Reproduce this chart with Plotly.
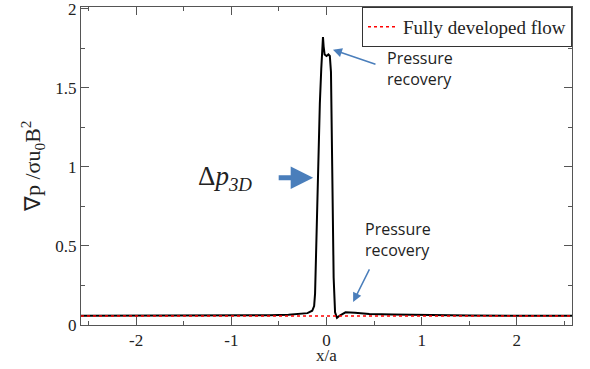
import plotly.graph_objects as go

# Data
x_vals = [-2.58, -1.5, -1.0, -0.6, -0.4, -0.3, -0.2, -0.15, -0.13, -0.12, -0.11, -0.09, -0.07, -0.055,
          -0.047, -0.037, -0.03, -0.02, 0.0, 0.02, 0.035, 0.047, 0.06, 0.075, 0.09, 0.11, 0.14,
          0.2, 0.3, 0.45, 0.7, 1.0, 1.5, 2.58]
y_vals = [0.058, 0.058, 0.06, 0.062, 0.065, 0.068, 0.075, 0.09, 0.12, 0.2, 0.45, 1.0, 1.4, 1.62,
          1.72, 1.82, 1.76, 1.71, 1.70, 1.71, 1.70, 1.6, 1.0, 0.3, 0.08, 0.045, 0.06,
          0.08, 0.078, 0.07, 0.066, 0.064, 0.06, 0.058]
fd_x = [-2.58, 2.58]
fd_y = [0.057, 0.057]

x_ticks = [-2, -1, 0, 1, 2]
x_tick_text = ["-2", "-1", "0", "1", "2"]
y_ticks = [0, 0.5, 1, 1.5, 2]
y_tick_text = ["0", "0.5", "1", "1.5", "2"]

serif = "Liberation Serif"
sans = "Open Sans"
blue = "#4A7EBB"

fig = go.Figure()
fig.add_trace(go.Scatter(x=x_vals, y=y_vals, mode="lines",
                         line=dict(color="black", width=2), showlegend=False))
fig.add_trace(go.Scatter(x=fd_x, y=fd_y, mode="lines", name="Fully developed flow",
                         line=dict(color="red", width=1.5, dash="dot")))

def axis_common():
    return dict(showline=True, linecolor="#555", linewidth=1, mirror="allticks",
                ticks="inside", ticklen=8, tickcolor="#555", showgrid=False, zeroline=False,
                automargin=False, ticklabeloverflow="allow",
                tickfont=dict(family=serif, size=17, color="#222"))

fig.update_xaxes(range=[-2.58, 2.58], tickvals=x_ticks, ticktext=x_tick_text,
                 minor=dict(ticks="inside", ticklen=4, dtick=0.5, tick0=0, tickcolor="#555"),
                 **axis_common())
fig.update_yaxes(range=[0, 2.01], tickvals=y_ticks, ticktext=y_tick_text,
                 minor=dict(ticks="inside", ticklen=4, dtick=0.25, tick0=0, tickcolor="#555"),
                 **axis_common())

annotations = [
    # axis titles
    dict(x=0.5, y=-0.13, xref="paper", yref="paper", text="x/a", showarrow=False,
         xanchor="center", yanchor="bottom", borderpad=0,
         font=dict(family=serif, size=17, color="#222")),
    dict(x=(32 - 81) / 491, y=0.5, xref="paper", yref="paper", text="∇p /σu<sub>0</sub>B<sup>2</sup>",
         showarrow=False, textangle=-90, xanchor="center", yanchor="middle",
         font=dict(family=serif, size=22, color="#222")),
    # arrows
    dict(x=0.068, y=1.74, xref="x", yref="y", ax=44, ay=15,
         showarrow=True, arrowhead=2, arrowsize=1.2, arrowwidth=1.5, arrowcolor=blue, text=""),
    dict(x=0.28, y=0.146, xref="x", yref="y", ax=17, ay=-34,
         showarrow=True, arrowhead=2, arrowsize=1.2, arrowwidth=1.5, arrowcolor=blue, text=""),
    dict(x=-0.14, y=0.93, xref="x", yref="y", ax=-36, ay=0,
         showarrow=True, arrowhead=2, arrowsize=0.9, arrowwidth=5, arrowcolor=blue, text=""),
    # texts
    dict(x=0.615, y=1.62, xref="x", yref="y", text="Pressure<br>recovery", showarrow=False,
         xanchor="left", align="left", font=dict(family=sans, size=16, color="#222")),
    dict(x=0.385, y=0.54, xref="x", yref="y", text="Pressure<br>recovery", showarrow=False,
         xanchor="left", align="left", font=dict(family=sans, size=16, color="#222")),
    dict(x=-1.37, y=0.93, xref="x", yref="y", text="Δ<i>p</i><sub><i>3D</i></sub>",
         showarrow=False, xanchor="left", yanchor="middle",
         font=dict(family=serif, size=27, color="#222")),
]

fig.update_layout(
    width=590, height=369,
    margin=dict(l=81, r=18, t=7, b=44),
    paper_bgcolor="white", plot_bgcolor="white",
    font=dict(family=serif, color="#222"),
    annotations=annotations,
    legend=dict(x=1, y=1, xanchor="right", yanchor="top", bgcolor="white",
                bordercolor="#333", borderwidth=1, font=dict(family=serif, size=19, color="#222"),
                itemwidth=30, tracegroupgap=0),
)

fig.write_html("out.html", config={"displayModeBar": False},
               post_script="document.body.style.margin='0';")
